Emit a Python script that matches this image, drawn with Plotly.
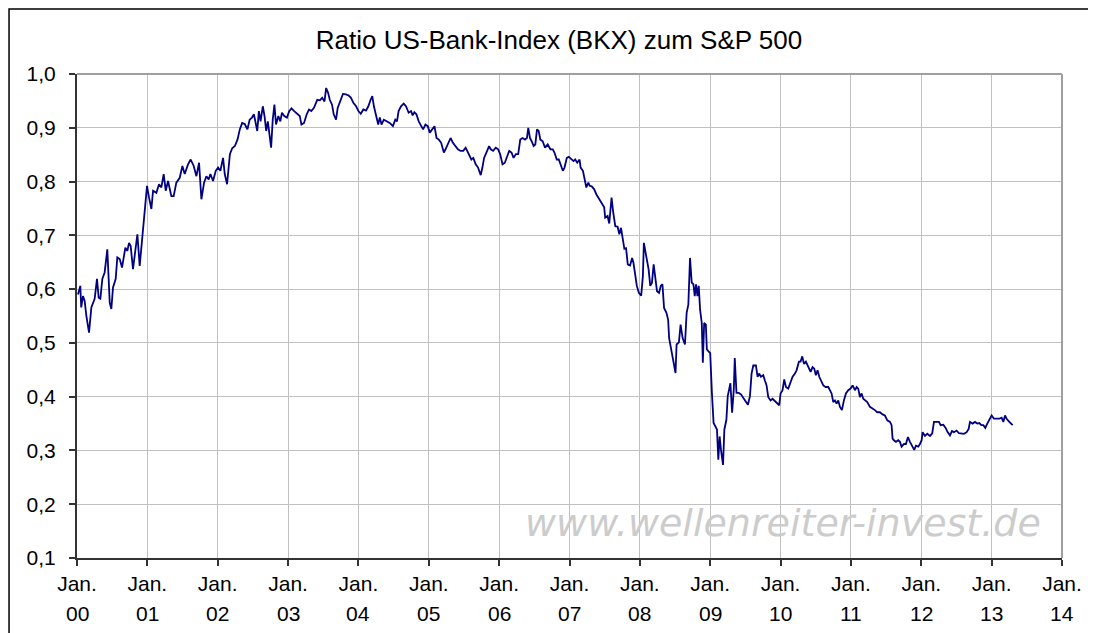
import plotly.graph_objects as go

# decimal years (time) and ratio values
dates = [
    2000.014, 2000.047, 2000.060, 2000.085, 2000.109, 2000.133, 2000.171, 2000.204, 2000.251, 2000.284,
    2000.308, 2000.332, 2000.360, 2000.393, 2000.431, 2000.465, 2000.488, 2000.512, 2000.550, 2000.573,
    2000.607, 2000.640, 2000.687, 2000.716, 2000.739, 2000.763, 2000.796, 2000.834, 2000.858, 2000.891,
    2000.924, 2000.962, 2000.995, 2001.024, 2001.057, 2001.081, 2001.128, 2001.166, 2001.199, 2001.232,
    2001.261, 2001.294, 2001.341, 2001.374, 2001.412, 2001.460, 2001.498, 2001.531, 2001.578, 2001.616,
    2001.659, 2001.697, 2001.735, 2001.768, 2001.806, 2001.839, 2001.872, 2001.896, 2001.934, 2001.972,
    2002.005, 2002.038, 2002.076, 2002.100, 2002.133,
    2002.173, 2002.206, 2002.244, 2002.281, 2002.314, 2002.347, 2002.384, 2002.422, 2002.454, 2002.487,
    2002.515, 2002.539, 2002.562, 2002.585, 2002.609, 2002.641, 2002.665, 2002.689, 2002.712, 2002.735,
    2002.759, 2002.782, 2002.806, 2002.829, 2002.862, 2002.890, 2002.913, 2002.946, 2002.984, 2003.016,
    2003.049, 2003.087, 2003.133, 2003.166, 2003.190, 2003.227, 2003.265, 2003.297, 2003.330, 2003.368,
    2003.415, 2003.452, 2003.485, 2003.518, 2003.541, 2003.569, 2003.593, 2003.625, 2003.649, 2003.682,
    2003.705, 2003.742, 2003.780, 2003.822, 2003.860, 2003.892, 2003.930, 2003.967, 2004.000, 2004.033,
    2004.070, 2004.108, 2004.141, 2004.173, 2004.197, 2004.220, 2004.248, 2004.281, 2004.304, 2004.328,
    2004.361, 2004.398, 2004.445,
    2004.490, 2004.524, 2004.548, 2004.571, 2004.605, 2004.643, 2004.676, 2004.714, 2004.748, 2004.771,
    2004.795, 2004.824, 2004.857, 2004.890, 2004.919, 2004.952, 2004.986, 2005.014, 2005.048, 2005.081,
    2005.110, 2005.143, 2005.176, 2005.214, 2005.238, 2005.271, 2005.310, 2005.343, 2005.381, 2005.414,
    2005.452, 2005.490, 2005.524, 2005.548, 2005.571, 2005.605, 2005.633, 2005.667, 2005.700, 2005.738,
    2005.762, 2005.786, 2005.810, 2005.833, 2005.857, 2005.881, 2005.914, 2005.952, 2005.986, 2006.014,
    2006.048, 2006.081, 2006.119, 2006.143, 2006.176, 2006.205, 2006.238, 2006.271, 2006.300, 2006.333,
    2006.367, 2006.395, 2006.414, 2006.438, 2006.462, 2006.490, 2006.514, 2006.538, 2006.562, 2006.586,
    2006.619, 2006.652, 2006.690, 2006.729, 2006.762, 2006.786, 2006.819, 2006.848, 2006.881, 2006.905,
    2006.929, 2006.962, 2006.990, 2007.024, 2007.057, 2007.081, 2007.110,
    2007.143, 2007.158, 2007.191, 2007.220, 2007.239, 2007.268, 2007.287, 2007.316, 2007.349, 2007.383,
    2007.411, 2007.445, 2007.469, 2007.493, 2007.507, 2007.541, 2007.565, 2007.598, 2007.622, 2007.651,
    2007.684, 2007.708, 2007.732, 2007.756, 2007.780, 2007.804, 2007.828, 2007.861, 2007.890, 2007.909,
    2007.933, 2007.957, 2007.986, 2008.019, 2008.043, 2008.057, 2008.091, 2008.124, 2008.148, 2008.172,
    2008.196, 2008.220, 2008.244, 2008.273, 2008.297, 2008.321, 2008.344, 2008.378, 2008.402, 2008.416,
    2008.450, 2008.474, 2008.507, 2008.522, 2008.555, 2008.579, 2008.608, 2008.641, 2008.665, 2008.689,
    2008.713, 2008.737, 2008.761, 2008.780, 2008.799, 2008.818, 2008.837, 2008.856, 2008.880, 2008.895,
    2008.914, 2008.938, 2008.952, 2008.976, 2009.000, 2009.024, 2009.048, 2009.072, 2009.096, 2009.115,
    2009.134, 2009.153, 2009.182, 2009.201, 2009.230, 2009.249, 2009.287, 2009.311, 2009.335, 2009.349,
    2009.373, 2009.407, 2009.440, 2009.469, 2009.502, 2009.536,
    2009.565, 2009.588, 2009.612, 2009.650, 2009.673, 2009.697, 2009.720, 2009.754, 2009.777, 2009.801,
    2009.825, 2009.858, 2009.886, 2009.910, 2009.943, 2009.981, 2010.000, 2010.028, 2010.052, 2010.076,
    2010.109, 2010.142, 2010.171, 2010.204, 2010.227, 2010.261, 2010.284, 2010.308, 2010.332, 2010.360,
    2010.393, 2010.427, 2010.455, 2010.479, 2010.502, 2010.526, 2010.550, 2010.573, 2010.607, 2010.640,
    2010.678, 2010.701, 2010.725, 2010.749, 2010.773, 2010.796, 2010.820, 2010.844, 2010.872, 2010.900,
    2010.929, 2010.962, 2010.995, 2011.024, 2011.057, 2011.081, 2011.104, 2011.128, 2011.152, 2011.175,
    2011.199, 2011.232, 2011.270, 2011.308, 2011.341, 2011.374, 2011.412, 2011.450, 2011.483, 2011.517,
    2011.555, 2011.578, 2011.592, 2011.611, 2011.640, 2011.673, 2011.697, 2011.720, 2011.754, 2011.782,
    2011.810, 2011.839, 2011.867, 2011.900, 2011.924, 2011.957, 2011.981, 2012.005, 2012.019, 2012.052,
    2012.085, 2012.123, 2012.156, 2012.180, 2012.218, 2012.251, 2012.275, 2012.313, 2012.346, 2012.374,
    2012.408, 2012.436, 2012.464, 2012.502, 2012.536, 2012.573, 2012.607, 2012.645, 2012.673, 2012.692,
    2012.730, 2012.763, 2012.796, 2012.825, 2012.853, 2012.882, 2012.910, 2012.938, 2012.967, 2013.000,
    2013.033, 2013.071, 2013.109, 2013.142, 2013.166, 2013.190, 2013.213, 2013.251, 2013.299,
]

ratio = [
    0.590, 0.606, 0.566, 0.587, 0.578, 0.550, 0.519, 0.566, 0.582, 0.619,
    0.584, 0.582, 0.619, 0.631, 0.674, 0.575, 0.563, 0.603, 0.619, 0.659,
    0.656, 0.640, 0.677, 0.671, 0.686, 0.680, 0.637, 0.674, 0.702, 0.643,
    0.690, 0.755, 0.792, 0.770, 0.749, 0.783, 0.779, 0.795, 0.789, 0.814,
    0.783, 0.801, 0.773, 0.773, 0.798, 0.807, 0.829, 0.814, 0.832, 0.841,
    0.829, 0.810, 0.835, 0.767, 0.798, 0.810, 0.804, 0.814, 0.801, 0.820,
    0.826, 0.820, 0.844, 0.814, 0.795,
    0.851, 0.862, 0.866, 0.878, 0.897, 0.909, 0.907, 0.897, 0.915, 0.919,
    0.925, 0.912, 0.894, 0.931, 0.912, 0.940, 0.922, 0.894, 0.912, 0.888,
    0.863, 0.915, 0.943, 0.906, 0.922, 0.912, 0.928, 0.922, 0.919, 0.931,
    0.936, 0.931, 0.926, 0.922, 0.906, 0.909, 0.925, 0.934, 0.931, 0.937,
    0.952, 0.951, 0.956, 0.949, 0.974, 0.965, 0.952, 0.943, 0.925, 0.915,
    0.937, 0.952, 0.963, 0.962, 0.960, 0.956, 0.946, 0.940, 0.931, 0.926,
    0.934, 0.932, 0.940, 0.952, 0.959, 0.940, 0.922, 0.906, 0.919, 0.906,
    0.915, 0.912, 0.909,
    0.903, 0.915, 0.912, 0.931, 0.940, 0.945, 0.940, 0.928, 0.931, 0.923,
    0.929, 0.925, 0.912, 0.903, 0.897, 0.906, 0.903, 0.891, 0.897, 0.903,
    0.881, 0.878, 0.872, 0.854, 0.860, 0.869, 0.881, 0.872, 0.866, 0.860,
    0.857, 0.857, 0.863, 0.857, 0.851, 0.841, 0.844, 0.832, 0.826, 0.812,
    0.826, 0.844, 0.851, 0.860, 0.866, 0.860, 0.857, 0.863, 0.860, 0.851,
    0.832, 0.835, 0.848, 0.857, 0.854, 0.844, 0.851, 0.851, 0.878, 0.881,
    0.878, 0.881, 0.900, 0.881, 0.875, 0.866, 0.869, 0.897, 0.894, 0.878,
    0.875, 0.863, 0.869, 0.860, 0.860, 0.854, 0.841, 0.841, 0.829, 0.820,
    0.826, 0.844, 0.846, 0.841, 0.838, 0.841, 0.835,
    0.841, 0.826, 0.820, 0.801, 0.789, 0.798, 0.792, 0.791, 0.786, 0.776,
    0.770, 0.761, 0.755, 0.752, 0.733, 0.736, 0.722, 0.770, 0.742, 0.717,
    0.716, 0.702, 0.714, 0.693, 0.675, 0.676, 0.646, 0.644, 0.658, 0.649,
    0.624, 0.606, 0.593, 0.588, 0.624, 0.686, 0.661, 0.637, 0.606, 0.612,
    0.646, 0.621, 0.596, 0.593, 0.606, 0.609, 0.565, 0.556, 0.543, 0.509,
    0.484, 0.463, 0.444, 0.497, 0.501, 0.534, 0.509, 0.497, 0.556, 0.571,
    0.658, 0.612, 0.609, 0.587, 0.609, 0.587, 0.606, 0.562, 0.537, 0.463,
    0.537, 0.534, 0.488, 0.484, 0.481, 0.407, 0.351, 0.345, 0.339, 0.283,
    0.326, 0.301, 0.273, 0.339, 0.357, 0.401, 0.425, 0.370, 0.413, 0.472,
    0.407, 0.407, 0.404, 0.398, 0.391, 0.385,
    0.401, 0.443, 0.458, 0.458, 0.437, 0.443, 0.437, 0.440, 0.430, 0.421,
    0.399, 0.393, 0.396, 0.393, 0.390, 0.384, 0.406, 0.412, 0.432, 0.418,
    0.415, 0.427, 0.437, 0.443, 0.449, 0.465, 0.465, 0.475, 0.461, 0.465,
    0.455, 0.446, 0.455, 0.452, 0.440, 0.449, 0.437, 0.430, 0.421, 0.418,
    0.418, 0.412, 0.406, 0.390, 0.393, 0.387, 0.393, 0.381, 0.375, 0.393,
    0.406, 0.412, 0.415, 0.421, 0.412, 0.418, 0.415, 0.399, 0.406, 0.396,
    0.393, 0.390, 0.381, 0.378, 0.375, 0.371, 0.371, 0.367, 0.365, 0.356,
    0.353, 0.347, 0.322, 0.319, 0.316, 0.319, 0.316, 0.307, 0.312, 0.312,
    0.325, 0.316, 0.309, 0.301, 0.309, 0.307, 0.312, 0.319, 0.334, 0.327,
    0.331, 0.327, 0.332, 0.353, 0.353, 0.353, 0.347, 0.348, 0.342, 0.334,
    0.328, 0.336, 0.334, 0.337, 0.332, 0.332, 0.331, 0.334, 0.340, 0.353,
    0.350, 0.353, 0.350, 0.351, 0.347, 0.347, 0.342, 0.350, 0.356, 0.365,
    0.359, 0.359, 0.359, 0.361, 0.353, 0.365, 0.359, 0.353, 0.347,
]

assert len(dates) == len(ratio), (len(dates), len(ratio))

year_ticks = list(range(2000, 2015))
month_label = "Jan."
year_labels = ["00", "01", "02", "03", "04", "05", "06", "07", "08", "09", "10", "11", "12", "13", "14"]
y_ticks = [0.1, 0.2, 0.3, 0.4, 0.5, 0.6, 0.7, 0.8, 0.9, 1.0]

title_text = "Ratio US-Bank-Index (BKX) zum S&amp;P 500"
watermark = "www.wellenreiter-invest.de"

FONT = "Liberation Sans, Arial, sans-serif"

# the page body has an 8px margin, so the figure is drawn 8px in from the window corner
W, H = 1088, 625
PL, PR, PT, PB = 69, 1054.5, 66, 550   # plot-area edges in figure pixels
PW, PH = PR - PL, PB - PT

fig = go.Figure()
fig.add_trace(go.Scatter(
    x=dates, y=ratio, mode="lines",
    line=dict(color="#000080", width=1.8),
    hoverinfo="skip", showlegend=False,
))

fig.update_layout(
    width=W, height=H,
    margin=dict(l=PL, r=W - PR, t=PT, b=H - PB),
    paper_bgcolor="white", plot_bgcolor="white",
    separators=",.",
    font=dict(family=FONT, size=21, color="black"),
    title=dict(text=title_text, x=551 / W, xref="container", xanchor="center",
               y=1 - 32 / H, yref="container", yanchor="middle",
               font=dict(family=FONT, size=26, color="black")),
    showlegend=False,
)

fig.update_xaxes(
    range=[2000, 2014], tickmode="array", tickvals=year_ticks,
    ticktext=[month_label] * len(year_ticks),
    showgrid=True, gridcolor="#c0c0c0", gridwidth=1,
    showline=True, linecolor="#333333", linewidth=2,
    ticks="outside", ticklen=6, tickcolor="#333333", tickwidth=1.5,
    tickfont=dict(family=FONT, size=21, color="black"),
    ticklabelstandoff=0, zeroline=False,
)
fig.update_yaxes(
    range=[0.1, 1.0], tickmode="array", tickvals=y_ticks, tickformat=".1f",
    showgrid=True, gridcolor="#c0c0c0", gridwidth=1,
    showline=True, linecolor="#333333", linewidth=2,
    ticks="outside", ticklen=6, tickcolor="#333333", tickwidth=1.5,
    tickfont=dict(family=FONT, size=21, color="black"),
    ticklabelstandoff=9, zeroline=False,
)

# second line of the x tick labels (year numbers)
for yr, lab in zip(year_ticks, year_labels):
    fig.add_annotation(x=yr, xref="x", y=(PB - 605) / PH, yref="paper",
                       text=lab, showarrow=False, xanchor="center", yanchor="middle",
                       font=dict(family=FONT, size=21, color="black"))

# watermark
fig.add_annotation(x=(775 - PL) / PW, xref="paper", y=(PB - 515) / PH, yref="paper",
                   text=watermark, showarrow=False, xanchor="center", yanchor="middle",
                   font=dict(family="DejaVu Sans, sans-serif", size=38, color="#cccccc", style="italic"))

# plot-area top/right border (grey) and outer chart border (black)
fig.add_shape(type="line", xref="paper", yref="paper", x0=0, x1=1, y0=1, y1=1,
              line=dict(color="#a0a0a0", width=2))
fig.add_shape(type="line", xref="paper", yref="paper", x0=1, x1=1, y0=0, y1=1,
              line=dict(color="#a0a0a0", width=2))
fig.add_shape(type="rect", xref="paper", yref="paper",
              x0=(1 - PL) / PW, x1=(1083 - PL) / PW,
              y0=(PB - 650) / PH, y1=(PB - 1) / PH,
              line=dict(color="black", width=1.5), fillcolor="rgba(0,0,0,0)", layer="above")

fig.write_html("out.html")
